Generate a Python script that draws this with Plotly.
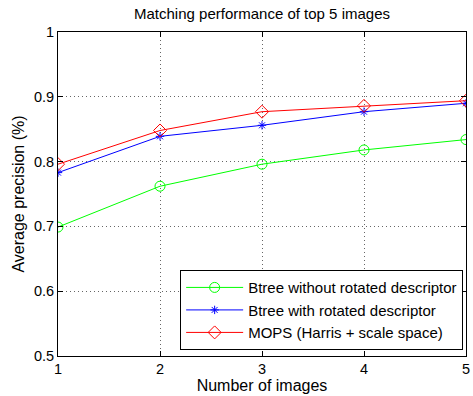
import plotly.graph_objects as go

x_vals = [1, 2, 3, 4, 5]
btree_no_rot = [0.699, 0.762, 0.796, 0.818, 0.834]
btree_rot = [0.783, 0.839, 0.856, 0.877, 0.890]
mops = [0.796, 0.848, 0.877, 0.886, 0.894]
series_names = ["Btree without rotated descriptor", "Btree with rotated descriptor", "MOPS (Harris + scale space)"]
x_ticks = [1, 2, 3, 4, 5]
y_ticks = [0.5, 0.6, 0.7, 0.8, 0.9, 1]
y_tick_text = ["0.5", "0.6", "0.7", "0.8", "0.9", "1"]

fig = go.Figure()
fig.add_trace(go.Scatter(x=x_vals, y=btree_no_rot, name=series_names[0], mode="lines+markers",
                         line=dict(color="#00ff00", width=1),
                         marker=dict(symbol="circle-open", size=10, color="#00ff00", line=dict(width=1))))
fig.add_trace(go.Scatter(x=x_vals, y=btree_rot, name=series_names[1], mode="lines+markers",
                         line=dict(color="#0000ff", width=1),
                         marker=dict(symbol="asterisk-open", size=7, color="#0000ff", line=dict(width=1, color="#0000ff"))))
fig.add_trace(go.Scatter(x=x_vals, y=mops, name=series_names[2], mode="lines+markers",
                         line=dict(color="#ff0000", width=1),
                         marker=dict(symbol="diamond-open", size=10, color="#ff0000", line=dict(width=1))))

font = dict(family="Liberation Sans, Arial, sans-serif", size=13, color="black")
grid_common = dict(showgrid=True, gridcolor="rgba(0,0,0,0.6)", griddash="1px,3px", gridwidth=1,
                   ticks="inside", ticklen=5, tickcolor="black",
                   showline=True, linecolor="black", linewidth=1, mirror="ticks", zeroline=False,
                   tickfont=dict(size=14.5), ticklabeloverflow="allow")
fig.update_layout(
    width=473, height=396,
    margin=dict(l=58, r=3, t=32, b=40),
    paper_bgcolor="white", plot_bgcolor="white",
    font=font,
    title=dict(text="Matching performance of top 5 images", x=0.5, xref="paper",
               y=1 - 14 / 396, yanchor="middle", font=dict(size=15)),
    xaxis=dict(range=[1, 5], tickvals=x_ticks,
               title=dict(text="Number of images", standoff=2), **grid_common),
    yaxis=dict(range=[0.5, 1], tickvals=y_ticks, ticktext=y_tick_text,
               title=dict(text="Average precision (%)", standoff=5), **grid_common),
    legend=dict(x=0.993, y=0.018, xanchor="right", yanchor="bottom",
                bgcolor="white", bordercolor="black", borderwidth=1,
                font=dict(size=15), tracegroupgap=0, itemsizing="trace", itemwidth=57),
    showlegend=True,
)
fig.write_html("out.html", config={"displayModeBar": False},
               post_script="document.body.style.margin='0';")
